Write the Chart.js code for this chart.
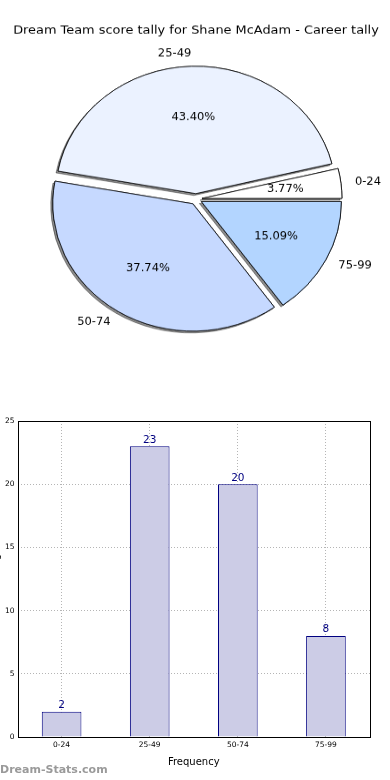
<!DOCTYPE html>
<html>
<head>
<meta charset="utf-8">
<script src="https://cdn.jsdelivr.net/npm/chart.js@4"></script>
<style>
  html, body { margin:0; padding:0; background:#fff; width:390px; height:780px; overflow:hidden; position:relative; }
  #pieBox { position:absolute; left:0; top:0; width:390px; height:430px; transform:scaleY(0.91); transform-origin:0 0; }
  #barBox { position:absolute; left:-11px; top:410px; width:401px; height:370px; }
  #wm { position:absolute; left:0; top:763px; font:bold 11px "DejaVu Sans"; color:#9a9a9a; }
</style>
</head>
<body>
<div id="pieBox"><canvas id="pie" width="390" height="430"></canvas></div>
<div id="barBox"><canvas id="bar" width="401" height="370"></canvas></div>
<div id="wm">Dream-Stats.com</div>
<script>
const title = 'Dream Team score tally for Shane McAdam - Career tally';
const categories = ['0-24', '25-49', '50-74', '75-99'];
const counts = [2, 23, 20, 8];
const sliceColors = ['#ffffff', '#ebf2ff', '#c6d9ff', '#b3d5ff'];
const yTicks = [0, 5, 10, 15, 20, 25];
const xTitle = 'Frequency';
const yTitle = 'Score Range';

// chart.js goes clockwise, matplotlib went counter-clockwise -> reverse
const pieLabels = categories.slice().reverse();
const pieValues = counts.slice().reverse();
const pieColors = sliceColors.slice().reverse();
const EXPLODE = 6;
const FONT = 'DejaVu Sans';

const explodePlugin = {
  id: 'explode',
  beforeDatasetDraw(chart, args) {
    const ctx = chart.ctx;
    const arcs = args.meta.data;
    [true, false].forEach(shadow => {
      arcs.forEach(arc => {
        const mid = (arc.startAngle + arc.endAngle) / 2;
        ctx.save();
        ctx.translate(EXPLODE * Math.cos(mid), EXPLODE * Math.sin(mid));
        if (shadow) {
          ctx.shadowColor = 'rgba(0,0,0,0.45)';
          ctx.shadowOffsetX = -2;
          ctx.shadowOffsetY = 2;
          ctx.shadowBlur = 0;
        }
        arc.draw(ctx);
        ctx.restore();
      });
    });
    return false;
  },
  afterDatasetsDraw(chart) {
    const ctx = chart.ctx;
    const meta = chart.getDatasetMeta(0);
    const total = pieValues.reduce((a, b) => a + b, 0);
    ctx.save();
    ctx.font = '11.5px "' + FONT + '"';
    ctx.fillStyle = '#000';
    ctx.textBaseline = 'middle';
    meta.data.forEach((arc, i) => {
      const mid = (arc.startAngle + arc.endAngle) / 2;
      const cx = arc.x + EXPLODE * Math.cos(mid);
      const cy = arc.y + EXPLODE * Math.sin(mid);
      const r1 = arc.outerRadius * 0.6;
      ctx.textAlign = 'center';
      ctx.fillText((pieValues[i] / total * 100).toFixed(2) + '%', cx + r1 * Math.cos(mid), cy + r1 * Math.sin(mid));
      const r2 = arc.outerRadius * 1.1;
      ctx.textAlign = Math.cos(mid) > 0 ? 'left' : 'right';
      ctx.fillText(pieLabels[i], cx + r2 * Math.cos(mid), cy + r2 * Math.sin(mid));
    });
    ctx.restore();
  }
};

new Chart(document.getElementById('pie'), {
  type: 'pie',
  data: {
    labels: pieLabels,
    datasets: [{ data: pieValues, backgroundColor: pieColors, borderColor: '#000', borderWidth: 0.8 }]
  },
  options: {
    responsive: false,
    animation: false,
    rotation: 90,
    radius: 140,
    layout: { padding: { left: 2, right: 0, top: 0, bottom: 44 } },
    plugins: {
      legend: { display: false },
      tooltip: { enabled: false },
      title: { display: true, text: title, color: '#000', font: { family: FONT, size: 12.9, weight: 'normal' }, padding: { top: 26, bottom: 10 } }
    }
  },
  plugins: [explodePlugin]
});

const barValues = {
  id: 'barValues',
  afterDatasetsDraw(chart) {
    const ctx = chart.ctx;
    const a = chart.chartArea;
    ctx.save();
    ctx.strokeStyle = '#000';
    ctx.lineWidth = 1;
    ctx.strokeRect(Math.round(a.left) + 0.5, Math.round(a.top) + 0.5, Math.round(a.right - a.left), Math.round(a.bottom - a.top));
    ctx.font = '10.5px "' + FONT + '"';
    ctx.fillStyle = '#000080';
    ctx.textAlign = 'center';
    ctx.textBaseline = 'bottom';
    chart.getDatasetMeta(0).data.forEach((bar, i) => {
      ctx.fillText(String(counts[i]), bar.x, bar.y - 1);
    });
    ctx.restore();
  }
};

const gridStyle = { color: '#b5b5b5', lineWidth: 1, drawTicks: false };
new Chart(document.getElementById('bar'), {
  type: 'bar',
  data: {
    labels: categories,
    datasets: [{ data: counts, backgroundColor: '#ccccE6', borderColor: '#000080', borderWidth: 1, barPercentage: 0.45, categoryPercentage: 1 }]
  },
  options: {
    responsive: false,
    animation: false,
    layout: { padding: { top: 11, right: 20, bottom: 12, left: 1 } },
    plugins: { legend: { display: false }, tooltip: { enabled: false } },
    scales: {
      x: {
        grid: Object.assign({ offset: false }, gridStyle),
        border: { display: false, dash: [1, 2] },
        ticks: { color: '#000', font: { family: FONT, size: 7.5 }, padding: 4 },
        title: { display: true, text: xTitle, color: '#000', font: { family: FONT, size: 10 }, padding: { top: 2, bottom: 0 } }
      },
      y: {
        min: yTicks[0],
        max: yTicks[yTicks.length - 1],
        afterBuildTicks: axis => { axis.ticks = yTicks.map(v => ({ value: v })); },
        grid: gridStyle,
        border: { display: false, dash: [1, 2] },
        ticks: { color: '#000', font: { family: FONT, size: 7.5 }, padding: 3 },
        title: { display: true, text: yTitle, color: '#000', font: { family: FONT, size: 10 }, padding: 0 }
      }
    }
  },
  plugins: [barValues]
});
</script>
</body>
</html>
